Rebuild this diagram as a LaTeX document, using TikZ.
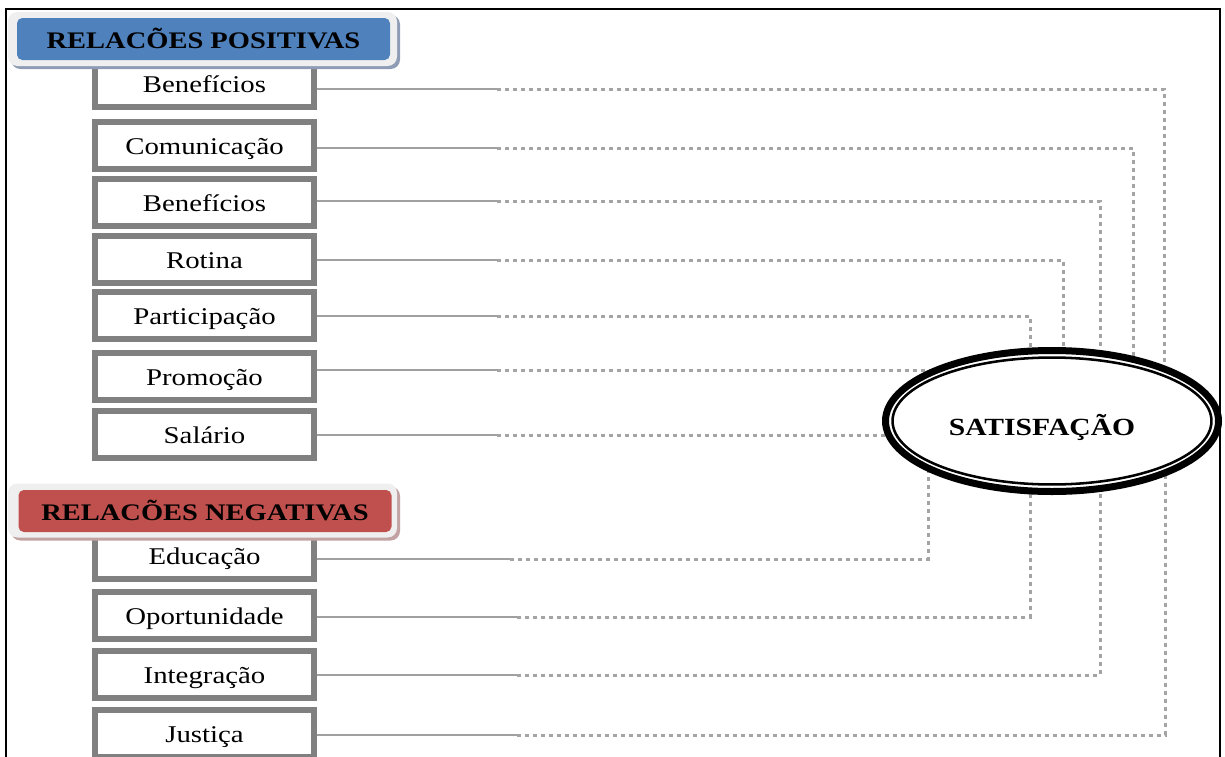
\documentclass[tikz,border=0pt]{standalone}
\usepackage{fontspec}
\setmainfont{Liberation Serif}[FakeStretch=1.2]
\usetikzlibrary{shapes.geometric}
\pgfdeclarelayer{bg}
\pgfsetlayers{bg,main}
\definecolor{boxgray}{HTML}{808080}
\definecolor{linegray}{HTML}{A0A0A0}
\definecolor{dotgray}{HTML}{A4A4A4}
\definecolor{posblue}{HTML}{4F81BD}
\definecolor{negred}{HTML}{C0504D}
\definecolor{frameface}{HTML}{EFEFEF}
\definecolor{posshade}{HTML}{8E9DB5}
\definecolor{negshade}{HTML}{C2A2A2}

\begin{document}
\begin{tikzpicture}[x=0.75pt,y=-0.75pt,
  item/.style={draw=boxgray, line width=4.5pt, fill=white,
    minimum width=164.25pt, minimum height=35.25pt, inner sep=0pt,
    text height=14pt, text depth=0pt, font=\fontsize{18pt}{20pt}\selectfont},
  solidln/.style={draw=linegray, line width=1.1pt},
  dotln/.style={draw=dotgray, line width=2.25pt, dash pattern=on 3pt off 3pt},
  hdrshade/.style={rounded corners=7pt, minimum width=291.75pt,
    minimum height=40.5pt, inner sep=0pt},
  hdrface/.style={hdrshade, fill=frameface},
  hdr/.style={rounded corners=4pt, minimum width=279.75pt, minimum height=31.5pt,
    inner sep=0pt, text height=14.5pt, text depth=0pt,
    font=\bfseries\fontsize{17.8pt}{20pt}\selectfont},
  satnode/.style={ellipse, draw, line width=5.25pt, fill=white,
    minimum width=249.75pt, minimum height=105.75pt, inner sep=0pt,
    text height=22pt, text depth=0pt,
    font=\bfseries\fontsize{18.5pt}{20pt}\selectfont},
]
\useasboundingbox (0,0) rectangle (1225,757);

% page frame
\draw[line width=1.5pt] (6,757) -- (6,9) -- (1220,9) -- (1220,757);

% factor boxes
\node[item] (b1)  at (204.5,83.5)  {Benefícios};
\node[item] (b2)  at (204.5,145.5) {Comunicação};
\node[item] (b3)  at (204.5,202.5) {Benefícios};
\node[item] (b4)  at (204.5,259.5) {Rotina};
\node[item] (b5)  at (204.5,315.5) {Participação};
\node[item] (b6)  at (204.5,376)   {Promoção};
\node[item] (b7)  at (204.5,434.5) {Salário};
\node[item] (b8)  at (204.5,555.5) {Educação};
\node[item] (b9)  at (204.5,615)   {Oportunidade};
\node[item] (b10) at (204.5,674)   {Integração};
\node[item] (b11) at (204.5,733)   {Justiça};

% group headers
\node[hdrshade, fill=posshade] (hpshade) at (205.5,42) {};
\node[hdrface] (hpface) at (202.5,39) {};
\node[hdr, fill=posblue] (hp) at (203.5,39) {RELACÕES POSITIVAS};

\node[hdrshade, fill=negshade] (hnshade) at (205.5,513.5) {};
\node[hdrface] (hnface) at (202.5,510.5) {};
\node[hdr, fill=negred] (hn) at (205,511) {RELACÕES NEGATIVAS};

% central construct
\node[satnode] (sat) at (1052,421) {SATISFAÇÃO\hspace*{15pt}};
\draw[line width=1.9pt] (sat.center) ellipse [x radius=119.6pt, y radius=47.6pt];

% turning points of the connectors
\coordinate (m1)  at (497,89);   \coordinate (c1)  at (1164,89);
\coordinate (m2)  at (497,148);  \coordinate (c2)  at (1133,148);
\coordinate (m3)  at (497,201);  \coordinate (c3)  at (1100,201);
\coordinate (m4)  at (497,260);  \coordinate (c4)  at (1063,260);
\coordinate (m5)  at (497,316);  \coordinate (c5)  at (1030,316);
\coordinate (m6)  at (497,370);
\coordinate (m7)  at (497,435);
\coordinate (m8)  at (510,559);  \coordinate (c8)  at (928,559);
\coordinate (m9)  at (517,617);  \coordinate (c9)  at (1030,617);
\coordinate (m10) at (517,675);  \coordinate (c10) at (1100,675);
\coordinate (m11) at (517,735);  \coordinate (c11) at (1165,735);

\begin{pgfonlayer}{bg}
  \foreach \i in {1,...,11}{
    \draw[solidln] (b\i.east |- m\i) -- (m\i);
  }
  \foreach \i in {1,2,3,4,5,8,9,10,11}{
    \draw[dotln] (m\i) -- (c\i) -- (c\i |- sat.center);
  }
  \draw[dotln] (m6) -- (m6 -| sat.center);
  \draw[dotln] (m7) -- (m7 -| sat.center);
\end{pgfonlayer}
\end{tikzpicture}
\end{document}
